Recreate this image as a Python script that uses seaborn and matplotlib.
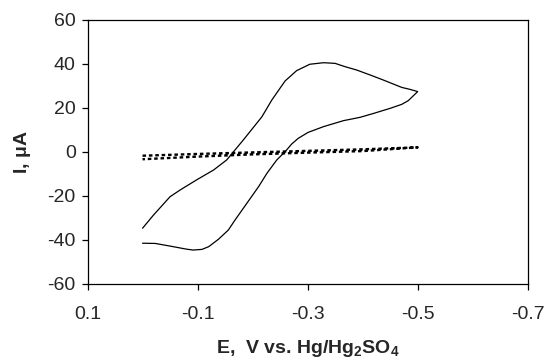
import pandas as pd
import matplotlib
matplotlib.use("Agg")
import matplotlib.pyplot as plt
import seaborn as sns

# solid CV loop
cv_E = [0.0, -0.02, -0.05, -0.068, -0.098, -0.129, -0.153, -0.183, -0.217, -0.235,
        -0.259, -0.280, -0.304, -0.329, -0.350, -0.368, -0.389, -0.414, -0.438,
        -0.471, -0.486, -0.500,
        -0.483, -0.471, -0.450, -0.420, -0.395, -0.365, -0.329, -0.301, -0.283,
        -0.271, -0.259, -0.244, -0.226, -0.211, -0.198, -0.183, -0.168, -0.156,
        -0.138, -0.120, -0.108, -0.092, -0.080, -0.050, -0.023, 0.0]
cv_I = [-34.7, -28.7, -20.4, -17.4, -12.8, -8.3, -3.7, 5.3, 15.9, 23.5,
        32.1, 36.8, 39.7, 40.4, 40.1, 38.6, 37.1, 34.8, 32.5,
        29.2, 28.3, 27.3,
        23.2, 21.5, 19.7, 17.4, 15.6, 14.1, 11.4, 8.8, 6.1,
        3.5, 0.0, -3.7, -9.8, -15.8, -20.4, -25.7, -31.0, -35.5,
        -39.7, -43.1, -44.3, -44.6, -44.2, -42.8, -41.6, -41.5]

# blank (dotted) loop
blank_E = [0.0, -0.1, -0.2, -0.3, -0.4, -0.5, -0.4, -0.3, -0.2, -0.1, 0.0]
blank_I = [-1.8, -1.0, -0.3, 0.4, 1.1, 2.0, 0.3, -0.4, -1.2, -2.2, -3.4]

x_ticks = [0.1, -0.1, -0.3, -0.5, -0.7]
x_labels = ["0.1", "-0.1", "-0.3", "-0.5", "-0.7"]
y_ticks = [-60, -40, -20, 0, 20, 40, 60]

sns.set_style("ticks")
plt.rcParams["font.family"] = ["Liberation Sans", "DejaVu Sans"]
plt.rcParams["axes.unicode_minus"] = False
plt.rcParams["mathtext.fontset"] = "custom"
plt.rcParams["mathtext.bf"] = "Liberation Sans:bold"
plt.rcParams["mathtext.rm"] = "Liberation Sans:bold"
plt.rcParams["mathtext.default"] = "bf"

cv = pd.DataFrame({"E": cv_E, "I": cv_I})
blank = pd.DataFrame({"E": blank_E, "I": blank_I})

fig = plt.figure(figsize=(5.48, 3.62), dpi=100)
ax = fig.add_axes([0.1597, 0.2155, 0.8033, 0.7306])

sns.lineplot(data=cv, x="E", y="I", sort=False, estimator=None,
             color="black", linewidth=0.9, ax=ax)
sns.lineplot(data=blank, x="E", y="I", sort=False, estimator=None,
             color="black", linewidth=1.7, linestyle=(0, (1.5, 1.2)), ax=ax)

ax.set_xlim(0.1, -0.7)
ax.set_ylim(-60, 60)
ax.set_xticks(x_ticks)
ax.set_xticklabels(x_labels)
ax.set_yticks(y_ticks)
ax.tick_params(axis="both", labelsize=14, length=4.5, width=0.9, color="black",
               direction="out")
ax.tick_params(axis="x", pad=11)
ax.tick_params(axis="y", pad=4)
for s in ax.spines.values():
    s.set_visible(True)
    s.set_color("black")
    s.set_linewidth(0.9)

ax.set_xlabel(r"E,  V vs. Hg/Hg$_2$SO$_4$", fontsize=14, fontweight="bold", labelpad=11)
ax.set_ylabel(r"I, $\mu$A", fontsize=14, fontweight="bold", labelpad=10)

fig.savefig("out.png", dpi=100)
